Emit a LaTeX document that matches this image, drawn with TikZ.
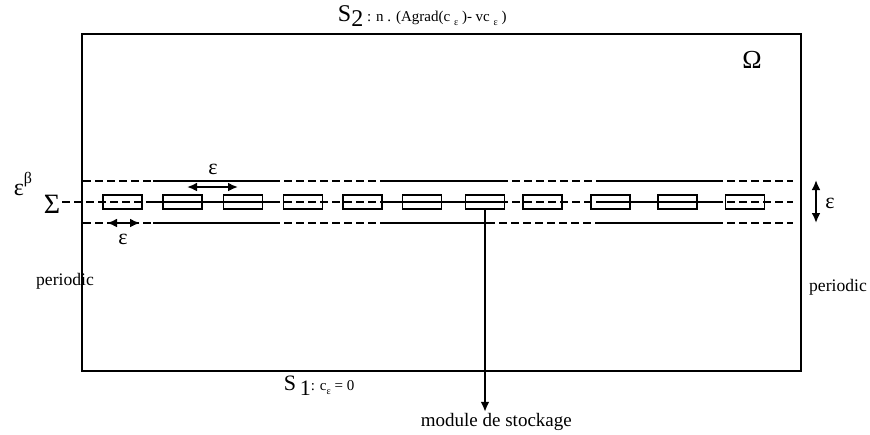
\documentclass[tikz,border=0pt]{standalone}
\usepackage{fontspec}
\setmainfont{Liberation Serif}
\usetikzlibrary{arrows.meta,positioning,calc}

\begin{document}
\begin{tikzpicture}[x=0.5pt,y=-0.5pt,>={Latex[length=5pt,width=4.4pt]},line width=0.9pt,
  cell/.style={draw,line width=0.9pt,minimum width=19.5pt,minimum height=7pt,inner sep=0pt},
  dsh/.style={dash pattern=on 4pt off 2pt},
  lab/.style={font=\fontsize{8.8}{10}\selectfont,inner sep=0pt},
  eps/.style={font=\fontsize{11}{12}\selectfont,inner sep=0pt}]
  \useasboundingbox (0,0) rectangle (870,434);
  % domain Omega
  \draw (82,34) rectangle (801,371);
  \node[font=\fontsize{13}{14}\selectfont,inner sep=0pt] (omega) at (752,60) {Ω};
  % layer of width epsilon^beta round Sigma (dashed = fluid, solid = cells)
  \draw[dsh] (83,181) -- (153,181) (272,181) -- (380,181) (500,181) -- (597,181) (715,181) -- (793,181);
  \draw (153,181) -- (272,181) (380,181) -- (500,181) (597,181) -- (715,181);
  \draw[dsh] (62,202) -- (153,202) (272,202) -- (380,202) (500,202) -- (597,202) (715,202) -- (793,202);
  \draw (153,202) -- (272,202) (380,202) -- (500,202) (597,202) -- (715,202);
  \draw[dsh] (83,223) -- (153,223) (272,223) -- (380,223) (487,223) -- (597,223) (715,223) -- (793,223);
  \draw (153,223) -- (272,223) (380,223) -- (487,223) (597,223) -- (715,223);
  % storage cells
  \node[cell] (b1) at (122.5,202) {};
  \node[cell] (b2) at (182.5,202) {};
  \node[cell] (b3) at (243,202) {};
  \node[cell] (b4) at (303,202) {};
  \node[cell] (b5) at (362.5,202) {};
  \node[cell] (b6) at (422,202) {};
  \node[cell] (b7) at (485,202) {};
  \node[cell] (b8) at (542.5,202) {};
  \node[cell] (b9) at (610.5,202) {};
  \node[cell] (b10) at (677.5,202) {};
  \node[cell] (b11) at (745,202) {};
  % labels on the left
  \node[font=\fontsize{12}{13}\selectfont,inner sep=0pt] (epsb) at (23,184) {ε\raisebox{1.1ex}{\fontsize{8}{9}\selectfont β}};
  \node[font=\fontsize{14}{15}\selectfont,inner sep=0pt] (sigma) at (52,204) {Σ};
  % period and thickness epsilon
  \coordinate (ta) at (187,187);
  \coordinate (tb) at (238,187);
  \draw[<->] (ta) -- (tb);
  \node[eps] (e1) at (213,169) {ε};
  \coordinate (ba) at (107,223);
  \coordinate (bb) at (140,223);
  \draw[<->] (ba) -- (bb);
  \node[eps] (e2) at (123,239) {ε};
  \coordinate (ra) at (816,180);
  \coordinate (rb) at (816,223);
  \draw[<->] (ra) -- (rb);
  \node[eps] (e3) at (830,203) {ε};
  % boundary conditions
  \node[lab] (perl) at (65,281) {periodic};
  \node[lab] (perr) at (838,287) {periodic};
  \node[anchor=base west,inner sep=0pt] (s2) at (337,21)
       {\fontsize{12}{13}\selectfont S\raisebox{-0.5ex}{2}\fontsize{7.5}{9}\selectfont\ : n . (Agrad(c \raisebox{-0.6ex}{\fontsize{5}{6}\selectfont ε} )- vc \raisebox{-0.6ex}{\fontsize{5}{6}\selectfont ε} )};
  \node[anchor=base west,inner sep=0pt] (s1) at (283,390)
       {\fontsize{11}{12}\selectfont S\,\raisebox{-0.5ex}{1}\fontsize{7.5}{9}\selectfont : c\raisebox{-0.6ex}{\fontsize{5}{6}\selectfont ε} = 0};
  % storage module
  \node[anchor=base west,inner sep=0pt,font=\fontsize{9.5}{11}\selectfont] (mod) at (420,426) {module de stockage};
  \draw[->,line width=1pt] (b7.south) -- (b7.south |- mod.north);
\end{tikzpicture}
\end{document}
